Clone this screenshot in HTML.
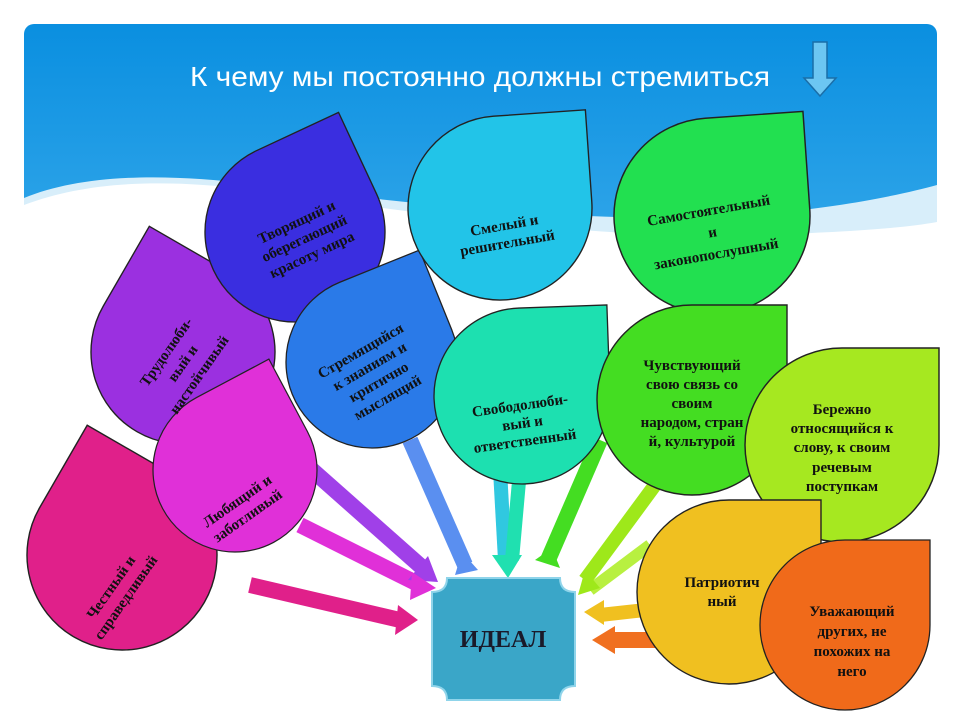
<!DOCTYPE html>
<html><head><meta charset="utf-8"><style>
html,body{margin:0;padding:0;background:#fff;}
svg{display:block}
text{font-family:"Liberation Serif",serif;font-weight:bold;fill:#111;}
</style></head><body>
<svg width="960" height="720" viewBox="0 0 960 720" xmlns="http://www.w3.org/2000/svg">
<defs>
<linearGradient id="sky" x1="0" y1="0" x2="0" y2="1">
<stop offset="0" stop-color="#0a8fe0"/><stop offset="0.5" stop-color="#45b2ee"/><stop offset="1" stop-color="#8fd6f6"/>
</linearGradient>
<path id="leaf" d="M1,-1 L1,0 A1,1 0 0 1 0,1 A1,1 0 0 1 -1,0 A1,1 0 0 1 0,-1 Z"/>
</defs>
<rect x="24" y="24" width="913" height="680" rx="10" fill="url(#sky)"/>
<path d="M24,198 C80,175 160,172 260,185 C420,205 600,225 750,215 C840,208 900,195 937,185 L937,704 L24,704 Z" fill="#d8eefa"/>
<path d="M24,205 C90,180 170,178 270,192 C430,215 600,240 760,235 C850,232 905,228 937,222 L937,704 L24,704 Z" fill="#fff"/>
<text x="480" y="86" text-anchor="middle" textLength="580" lengthAdjust="spacingAndGlyphs" style="font-family:'Liberation Sans',sans-serif;font-weight:normal;font-size:28px;fill:#fff">К чему мы постоянно должны стремиться</text>
<path d="M813,42 L827,42 L827,78 L836,78 L820,96 L804,78 L813,78 Z" fill="#6cc6f2" stroke="#1a6ea8" stroke-width="1.5"/>

<!-- arrows -->
<g stroke-linecap="butt">
<line x1="250" y1="415" x2="425" y2="570" stroke="#a040e8" stroke-width="16"/>
<line x1="300" y1="525" x2="420" y2="585" stroke="#e030d8" stroke-width="16"/>
<line x1="250" y1="585" x2="400" y2="620" stroke="#e0208a" stroke-width="16"/>
<line x1="410" y1="440" x2="465" y2="565" stroke="#5a8ff0" stroke-width="16"/>
<line x1="500" y1="470" x2="505" y2="560" stroke="#30c8e0" stroke-width="14"/>
<line x1="520" y1="470" x2="512" y2="560" stroke="#20e0b0" stroke-width="14"/>
<line x1="600" y1="440" x2="548" y2="560" stroke="#44dd22" stroke-width="16"/>
<line x1="655" y1="485" x2="585" y2="580" stroke="#9ee81a" stroke-width="14"/>
<line x1="650" y1="545" x2="590" y2="590" stroke="#b8f040" stroke-width="12"/>
<line x1="645" y1="610" x2="600" y2="615" stroke="#f0c020" stroke-width="14"/>
<line x1="780" y1="640" x2="610" y2="640" stroke="#f07020" stroke-width="16"/>
</g>
<g>
<polygon points="408,580 438,582 428,556" fill="#a040e8"/>
<polygon points="410,600 436,588 412,572" fill="#e030d8"/>
<polygon points="395,635 418,620 398,605" fill="#e0208a"/>
<polygon points="455,575 478,570 462,552" fill="#5a8ff0"/>
<polygon points="492,555 522,555 508,578" fill="#20e0b0"/>
<polygon points="535,560 560,568 552,548" fill="#44dd22"/>
<polygon points="578,595 600,588 585,570" fill="#9ee81a"/>
<polygon points="584,612 604,600 604,625" fill="#f0c020"/>
<polygon points="592,640 615,626 615,654" fill="#f07020"/>
</g>

<!-- ideal box -->
<path d="M447,578 L560,578 Q560,592 575,592 L575,686 Q560,686 560,700 L447,700 Q447,686 432,686 L432,592 Q447,592 447,578 Z" fill="#3aa6c8" stroke="#8fd4ea" stroke-width="2"/>
<text x="503" y="647" text-anchor="middle" font-size="24" style="fill:#1a1a2a">ИДЕАЛ</text>

<!-- leaves -->
<g stroke="#222">
<use href="#leaf" transform="translate(122,555) rotate(-60) scale(95)" fill="#e0208a" stroke-width="0.015"/>
<use href="#leaf" transform="translate(183,352) rotate(-60) scale(92)" fill="#9b30e0" stroke-width="0.015"/>
<use href="#leaf" transform="translate(295,232) rotate(-25) scale(90)" fill="#3a2ee0" stroke-width="0.015"/>
<use href="#leaf" transform="translate(235,470) rotate(-28) scale(82)" fill="#e030d8" stroke-width="0.015"/>
<use href="#leaf" transform="translate(372,362) rotate(-22) scale(86)" fill="#2a7ae8" stroke-width="0.015"/>
<use href="#leaf" transform="translate(500,208) rotate(-4) scale(92)" fill="#22c4e8" stroke-width="0.015"/>
<use href="#leaf" transform="translate(712,216) rotate(-4) scale(98)" fill="#22e050" stroke-width="0.015"/>
<use href="#leaf" transform="translate(522,396) rotate(-2) scale(88)" fill="#1de0b0" stroke-width="0.015"/>
<use href="#leaf" transform="translate(692,400) scale(95)" fill="#44dd22" stroke-width="0.015"/>
<use href="#leaf" transform="translate(842,445) scale(97)" fill="#a6e820" stroke-width="0.015"/>
<use href="#leaf" transform="translate(729,592) scale(92)" fill="#f0c020" stroke-width="0.015"/>
<use href="#leaf" transform="translate(845,625) scale(85)" fill="#f06a1a" stroke-width="0.015"/>
</g>

<!-- labels -->
<g font-size="15" text-anchor="middle">
<g transform="translate(305,240) rotate(-25)"><text y="-15">Творящий и</text><text y="3">оберегающий</text><text y="21">красоту мира</text></g>
<g transform="translate(505,230) rotate(-10)"><text y="0">Смелый и</text><text y="18">решительный</text></g>
<g transform="translate(712,230) rotate(-10)"><text y="-15">Самостоятельный</text><text y="7">и</text><text y="29">законопослушный</text></g>
<g transform="translate(185,365) rotate(-55)"><text y="-18">Трудолюби-</text><text y="2">вый и</text><text y="22">настойчивый</text></g>
<g transform="translate(374,374) rotate(-30)"><text y="-22">Стремящийся</text><text y="-4">к знаниям и</text><text y="14">критично</text><text y="32">мыслящий</text></g>
<g transform="translate(522,420) rotate(-8)"><text y="-10">Свободолюби-</text><text y="8">вый и</text><text y="26">ответственный</text></g>
<text x="692" y="370">Чувствующий</text><text x="692" y="389">свою связь со</text><text x="692" y="408">своим</text><text x="692" y="427">народом, стран</text><text x="692" y="446">й, культурой</text>
<text x="842" y="414">Бережно</text><text x="842" y="433">относящийся к</text><text x="842" y="452">слову, к своим</text><text x="842" y="472">речевым</text><text x="842" y="491">поступкам</text>
<text x="722" y="587">Патриотич</text><text x="722" y="606">ный</text>
<text x="852" y="616">Уважающий</text><text x="852" y="636">других, не</text><text x="852" y="656">похожих на</text><text x="852" y="676">него</text>
<g transform="translate(240,505) rotate(-35)"><text y="0">Любящий и</text><text y="18">заботливый</text></g>
<g transform="translate(115,590) rotate(-55)"><text y="0">Честный и</text><text y="18">справедливый</text></g>
</g>
</svg>
</body></html>
